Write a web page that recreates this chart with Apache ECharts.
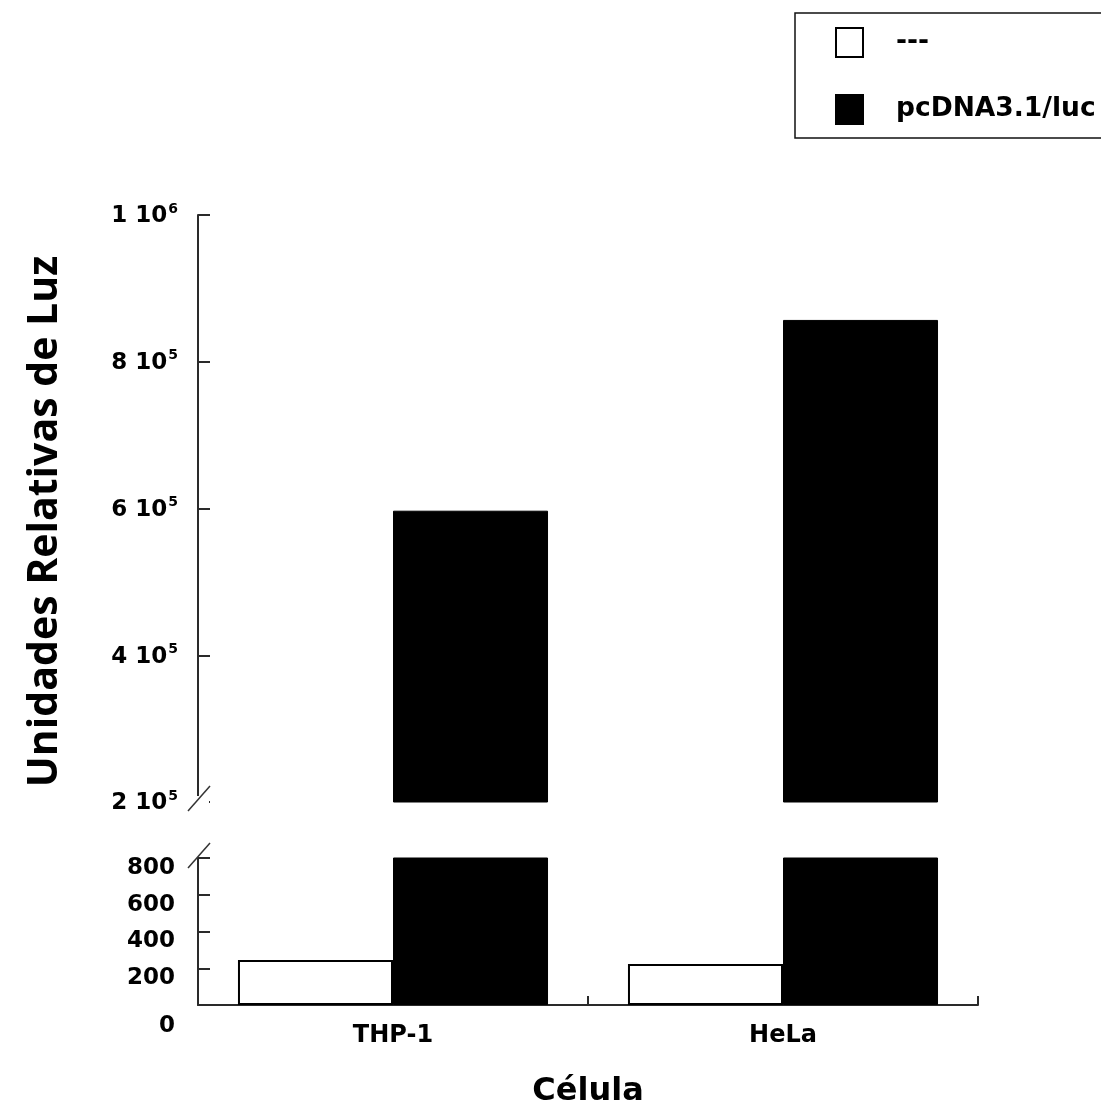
<!DOCTYPE html>
<html>
<head>
<meta charset="utf-8">
<script src="https://cdn.jsdelivr.net/npm/echarts@6/dist/echarts.min.js"></script>
<style>
html,body{margin:0;padding:0;background:#fff;}
#c{width:1101px;height:1112px;}
</style>
</head>
<body>
<div id="c"></div>
<script>
// ---- data ----
var categories = ['THP-1', 'HeLa'];
var seriesNames = ['---', 'pcDNA3.1/luc'];
var controlValues = [245, 223];          // '---' (empty vector)
var lucValues = [597000, 857000];         // pcDNA3.1/luc
var lowTicks = [0, 200, 400, 600, 800];   // lower axis segment
var highTicks = [200000, 400000, 600000, 800000, 1000000]; // upper axis segment
var highTickLabels = [['2', '5'], ['4', '5'], ['6', '5'], ['8', '5'], ['1', '6']];
var xTitle = 'Célula';
var yTitle = 'Unidades Relativas de Luz';

var FONT = 'DejaVu Sans';
var AXIS_COLOR = '#2a2a2a';
var lowMin = lowTicks[0], lowMax = lowTicks[lowTicks.length - 1];
var highMin = highTicks[0], highMax = highTicks[highTicks.length - 1];

var chart = echarts.init(document.getElementById('c'), null, {renderer: 'canvas'});

var whiteStyle = {color: '#fff', borderColor: '#000', borderWidth: 2};
var blackStyle = {color: '#000', borderColor: '#000', borderWidth: 1};

var option = {
  animation: false,
  backgroundColor: '#fff',
  legend: {
    data: seriesNames,
    orient: 'vertical',
    left: 795,
    top: 13,
    padding: [14, 40, 13, 40],
    itemWidth: 27,
    itemHeight: 29,
    itemGap: 36,
    borderColor: '#111',
    borderWidth: 1.5,
    icon: 'rect',
    selectedMode: false,
    textStyle: {fontFamily: FONT, fontWeight: 'bold', fontSize: 26.5, color: '#000', padding: [0, 0, 0, 28]}
  },
  grid: [
    {left: 198, right: 123, top: 215, height: 587, outerBoundsMode: 'none', containLabel: false},
    {left: 198, right: 123, top: 858, height: 147, outerBoundsMode: 'none', containLabel: false}
  ],
  xAxis: [
    {gridIndex: 0, type: 'category', data: categories, show: false},
    {
      gridIndex: 1, type: 'category', data: categories,
      axisLine: {lineStyle: {color: AXIS_COLOR, width: 2}},
      axisTick: {show: true, inside: true, interval: 0, length: 9, lineStyle: {color: AXIS_COLOR, width: 2}},
      axisLabel: {fontFamily: FONT, fontWeight: 'bold', fontSize: 24, color: '#000', margin: 19},
      name: xTitle, nameLocation: 'middle', nameGap: 71,
      nameTextStyle: {fontFamily: FONT, fontWeight: 'bold', fontSize: 32, color: '#000'}
    }
  ],
  yAxis: [
    {
      gridIndex: 0, type: 'value', min: highMin, max: highMax, interval: 200000,
      splitLine: {show: false},
      axisLine: {show: true, lineStyle: {color: AXIS_COLOR, width: 2}},
      axisTick: {show: true, inside: true, length: 12, lineStyle: {color: AXIS_COLOR, width: 2}},
      axisLabel: {
        margin: 20,
        formatter: function (v) {
          var i = highTicks.indexOf(v);
          if (i < 0) return '';
          return '{n|' + highTickLabels[i][0] + ' 10}{s|' + highTickLabels[i][1] + '}';
        },
        rich: {
          n: {fontFamily: FONT, fontWeight: 'bold', fontSize: 23, color: '#000', lineHeight: 26, verticalAlign: 'bottom'},
          s: {fontFamily: FONT, fontWeight: 'bold', fontSize: 14, color: '#000', lineHeight: 14, verticalAlign: 'top', padding: [0, 0, 0, 1]}
        }
      },
      name: yTitle, nameLocation: 'middle', nameGap: 132,
      nameTextStyle: {fontFamily: 'Open Sans', fontWeight: 'bold', fontSize: 41, color: '#000', padding: [0, 26, 0, 0]}
    },
    {
      gridIndex: 1, type: 'value', min: lowMin, max: lowMax, interval: 200,
      splitLine: {show: false},
      axisLine: {show: true, lineStyle: {color: AXIS_COLOR, width: 2}},
      axisTick: {show: true, inside: true, length: 12, lineStyle: {color: AXIS_COLOR, width: 2}},
      axisLabel: {
        margin: 23,
        formatter: function (v) {
          return v === 0 ? '{z|0}' : '{a|' + v + '}';
        },
        rich: {
          a: {fontFamily: FONT, fontWeight: 'bold', fontSize: 23, color: '#000', padding: [20, 0, 0, 0]},
          z: {fontFamily: FONT, fontWeight: 'bold', fontSize: 23, color: '#000', padding: [42, 0, 0, 0]}
        }
      }
    }
  ],
  series: [
    {name: seriesNames[0], type: 'bar', xAxisIndex: 0, yAxisIndex: 0, barGap: '0%', barCategoryGap: '20.5%',
     itemStyle: whiteStyle, clip: true,
     data: controlValues.map(function (v) { return v >= highMin ? v : null; })},
    {name: seriesNames[1], type: 'bar', xAxisIndex: 0, yAxisIndex: 0, barGap: '0%', barCategoryGap: '20.5%',
     itemStyle: blackStyle, clip: true, data: lucValues},
    {name: seriesNames[0], type: 'bar', xAxisIndex: 1, yAxisIndex: 1, barGap: '0%', barCategoryGap: '20.5%',
     itemStyle: whiteStyle, clip: true, data: controlValues},
    {name: seriesNames[1], type: 'bar', xAxisIndex: 1, yAxisIndex: 1, barGap: '0%', barCategoryGap: '20.5%',
     itemStyle: blackStyle, clip: true, data: lucValues}
  ]
};
chart.setOption(option);

// axis-break slashes placed from axis scales
var pTop = chart.convertToPixel({gridIndex: 0}, [0, highMin]);
var pBot = chart.convertToPixel({gridIndex: 1}, [0, lowMax]);
var axisX = 198;
function slash(y) {
  return {type: 'line', shape: {x1: axisX - 10, y1: y + 12, x2: axisX + 12, y2: y - 13},
          style: {stroke: '#333', lineWidth: 1.5}, z: 100};
}
chart.setOption({
  graphic: [
    {type: 'rect', shape: {x: axisX - 3, y: pTop[1] - 6, width: 14, height: 8}, style: {fill: '#fff'}, z: 90},
    slash(pTop[1] - 3),
    slash(pBot[1] - 2)
  ]
});
</script>
</body>
</html>
